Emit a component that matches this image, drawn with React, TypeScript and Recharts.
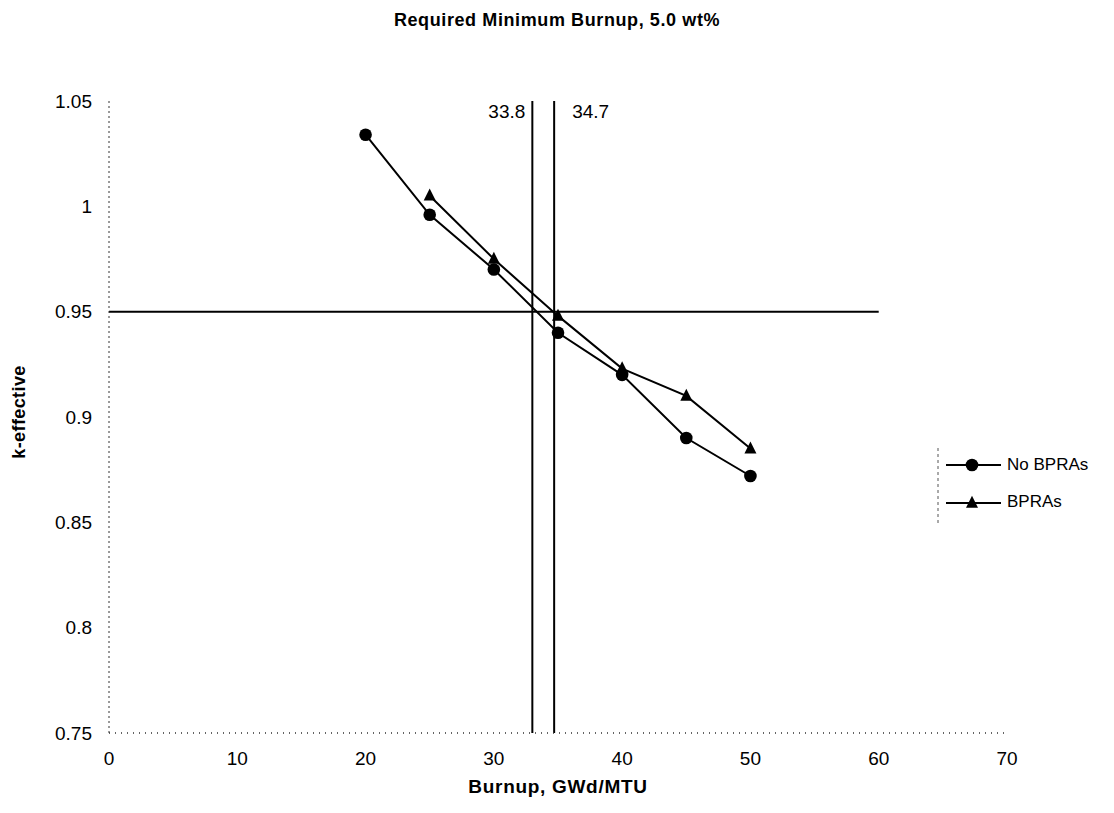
import React from 'react';
import { LineChart, Line, XAxis, YAxis, ReferenceLine, Legend } from 'recharts';

// ---- data ----
const noBprasBurnup = [20, 25, 30, 35, 40, 45, 50];
const noBprasK = [1.034, 0.996, 0.970, 0.940, 0.920, 0.890, 0.872];
const bprasBurnup = [25, 30, 35, 40, 45, 50];
const bprasK = [1.005, 0.975, 0.948, 0.923, 0.910, 0.885];

const xTicks = [0, 10, 20, 30, 40, 50, 60, 70];
const yTicks = [0.75, 0.8, 0.85, 0.9, 0.95, 1, 1.05];

const limitK = 0.95;
const limitXStart = 0;
const limitXEnd = 60;
const crossingX = [33.0, 34.7];
const crossingLabels = ['33.8', '34.7'];

const seriesNames = ['No BPRAs', 'BPRAs'];
const titleText = 'Required Minimum Burnup, 5.0 wt%';
const xTitle = 'Burnup, GWd/MTU';
const yTitle = 'k-effective';

const noBprasData = noBprasBurnup.map((x, i) => ({ x, k: noBprasK[i] }));
const bprasData = bprasBurnup.map((x, i) => ({ x, k: bprasK[i] }));

const FONT = 'Arial, "Liberation Sans", Helvetica, sans-serif';

const CircleDot = (props: any) => {
  const { cx, cy } = props;
  if (cx == null || cy == null) return <g key={props.key} />;
  return <circle key={props.key} cx={cx} cy={cy} r={6.3} fill="#000" stroke="none" />;
};

const TriDot = (props: any) => {
  const { cx, cy } = props;
  if (cx == null || cy == null) return <g key={props.key} />;
  const h = 12;
  const w = 12;
  const pts = `${cx},${cy - h * 0.6} ${cx - w / 2},${cy + h * 0.4} ${cx + w / 2},${cy + h * 0.4}`;
  return <polygon key={props.key} points={pts} fill="#000" stroke="none" />;
};

const LegendContent = () => (
  <svg width={180} height={90} style={{ display: 'block', overflow: 'visible' }}>
    <line x1={4} y1={3} x2={4} y2={80} stroke="#555" strokeDasharray="3 3" strokeWidth={1} />
    <line x1={12} y1={20} x2={67} y2={20} stroke="#000" strokeWidth={2} />
    <circle cx={38} cy={20} r={6.3} fill="#000" />
    <text x={73} y={19} dy="0.355em" fontFamily={FONT} fontSize={17} fill="#000">{seriesNames[0]}</text>
    <line x1={12} y1={58} x2={67} y2={58} stroke="#000" strokeWidth={2} />
    <polygon points={`38,50.8 32,62.8 44,62.8`} fill="#000" />
    <text x={73} y={56} dy="0.355em" fontFamily={FONT} fontSize={17} fill="#000">{seriesNames[1]}</text>
  </svg>
);

const makeCrossLabel = (text: string, side: 'left' | 'right') => (props: any) => {
  const vb = props.viewBox || {};
  const x = side === 'left' ? vb.x - 7 : vb.x + 18;
  return (
    <text
      x={x}
      y={vb.y + 4}
      dy="0.71em"
      textAnchor={side === 'left' ? 'end' : 'start'}
      fontFamily={FONT}
      fontSize={19}
      fill="#000"
    >
      {text}
    </text>
  );
};

export default function App() {
  return (
    <div style={{ position: 'absolute', left: 0, top: 0, width: 1114, height: 813, background: '#fff' }}>
      <div
        style={{
          position: 'absolute',
          left: 0,
          width: 1114,
          top: 9,
          lineHeight: '22px',
          textAlign: 'center',
          fontFamily: FONT,
          fontWeight: 'bold',
          fontSize: 18,
          letterSpacing: 0.6,
          color: '#000',
        }}
      >
        {titleText}
      </div>
      <div
        style={{
          position: 'absolute',
          left: 109,
          width: 898,
          top: 776,
          lineHeight: '22px',
          textAlign: 'center',
          fontFamily: FONT,
          fontWeight: 'bold',
          fontSize: 19,
          letterSpacing: 0.7,
          color: '#000',
        }}
      >
        {xTitle}
      </div>
      <div
        style={{
          position: 'absolute',
          left: 19,
          top: 412,
          lineHeight: '22px',
          transform: 'translate(-50%, -50%) rotate(-90deg)',
          fontFamily: FONT,
          fontWeight: 'bold',
          fontSize: 18,
          letterSpacing: 0.4,
          color: '#000',
          whiteSpace: 'nowrap',
        }}
      >
        {yTitle}
      </div>
      <div style={{ position: 'absolute', left: 0, top: 0 }}>
        <LineChart
          width={1114}
          height={813}
          margin={{ top: 101, right: 107, bottom: 50, left: 49 }}
          style={{ fontFamily: FONT }}
        >
          <XAxis
            type="number"
            dataKey="x"
            domain={[0, 70]}
            ticks={xTicks}
            allowDataOverflow
            height={30}
            tickLine={false}
            tickSize={6}
            tickMargin={13}
            axisLine={{ stroke: '#333', strokeDasharray: '1 5', strokeWidth: 1.5 }}
            tick={{ fill: '#000', fontSize: 19, fontFamily: FONT }}
            interval={0}
          />
          <YAxis
            type="number"
            dataKey="k"
            domain={[0.75, 1.05]}
            ticks={yTicks}
            allowDataOverflow
            width={60}
            tickLine={false}
            tickSize={6}
            tickMargin={11}
            axisLine={{ stroke: '#333', strokeDasharray: '2 3', strokeWidth: 1 }}
            tick={{ fill: '#000', fontSize: 19, fontFamily: FONT }}
            interval={0}
          />
          <ReferenceLine
            segment={[{ x: limitXStart, y: limitK }, { x: limitXEnd, y: limitK }]}
            stroke="#000"
            strokeWidth={2}
            ifOverflow="extendDomain"
          />
          <ReferenceLine
            x={crossingX[0]}
            stroke="#000"
            strokeWidth={2}
            label={makeCrossLabel(crossingLabels[0], 'left')}
          />
          <ReferenceLine
            x={crossingX[1]}
            stroke="#000"
            strokeWidth={2}
            label={makeCrossLabel(crossingLabels[1], 'right')}
          />
          <Line
            data={noBprasData}
            dataKey="k"
            name={seriesNames[0]}
            type="linear"
            stroke="#000"
            strokeWidth={2}
            dot={CircleDot}
            activeDot={false}
            isAnimationActive={false}
          />
          <Line
            data={bprasData}
            dataKey="k"
            name={seriesNames[1]}
            type="linear"
            stroke="#000"
            strokeWidth={2}
            dot={TriDot}
            activeDot={false}
            isAnimationActive={false}
          />
          <Legend
            layout="vertical"
            align="center"
            verticalAlign="middle"
            content={LegendContent}
            wrapperStyle={{ left: 934, top: 445, width: 180, height: 90 }}
          />
        </LineChart>
      </div>
    </div>
  );
}
